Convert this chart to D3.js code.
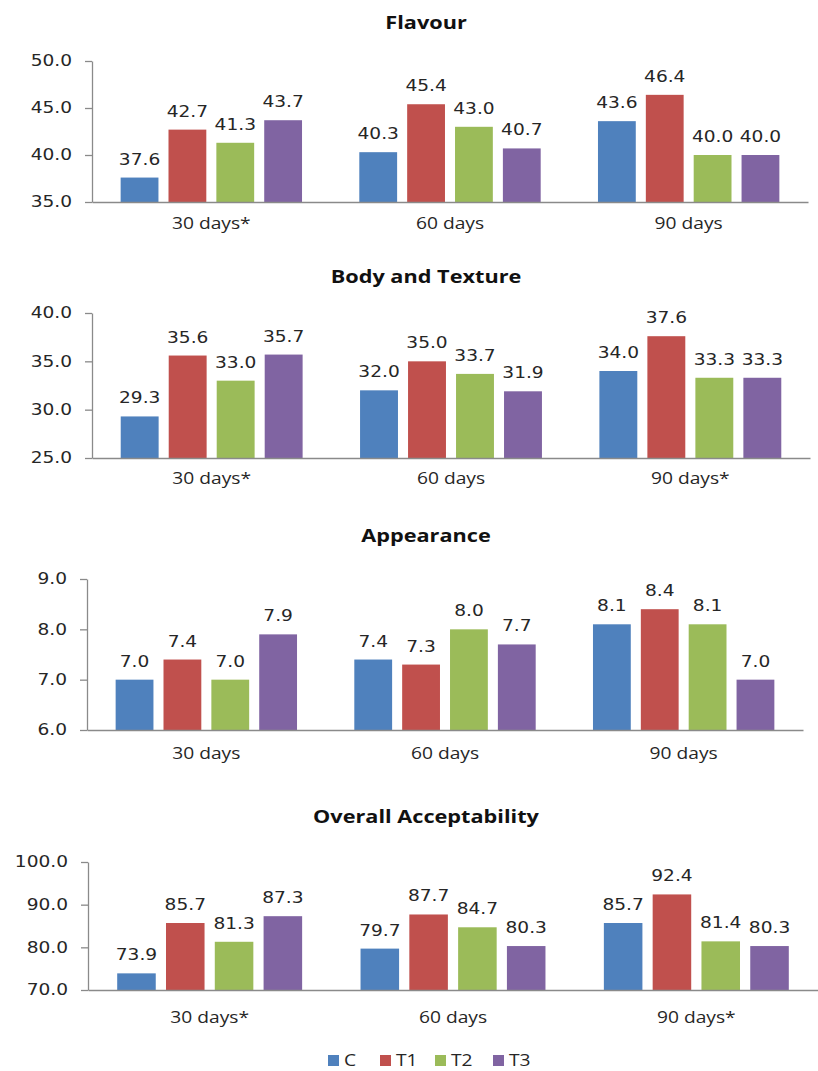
<!DOCTYPE html>
<html>
<head>
<meta charset="utf-8">
<script src="https://cdn.jsdelivr.net/npm/d3@7"></script>
<style>
  html, body { margin: 0; padding: 0; background: #fff; }
  svg { display: block; }
</style>
</head>
<body>
<svg id="chart" width="818" height="1071"></svg>
<script>
// Sensory scores of the four treatments over storage time
const series = ["C", "T1", "T2", "T3"];
const colors = ["#4F81BD", "#C0504D", "#9BBB59", "#8064A2"];

const flavourDays = ["30 days*", "60 days", "90 days"];
const flavourC  = [37.6, 40.3, 43.6];
const flavourT1 = [42.7, 45.4, 46.4];
const flavourT2 = [41.3, 43.0, 40.0];
const flavourT3 = [43.7, 40.7, 40.0];
const flavourTicks = [35, 40, 45, 50];

const bodyDays = ["30 days*", "60 days", "90 days*"];
const bodyC  = [29.3, 32.0, 34.0];
const bodyT1 = [35.6, 35.0, 37.6];
const bodyT2 = [33.0, 33.7, 33.3];
const bodyT3 = [35.7, 31.9, 33.3];
const bodyTicks = [25, 30, 35, 40];

const appearanceDays = ["30 days", "60 days", "90 days"];
const appearanceC  = [7.0, 7.4, 8.1];
const appearanceT1 = [7.4, 7.3, 8.4];
const appearanceT2 = [7.0, 8.0, 8.1];
const appearanceT3 = [7.9, 7.7, 7.0];
const appearanceTicks = [6, 7, 8, 9];

const overallDays = ["30 days*", "60 days", "90 days*"];
const overallC  = [73.9, 79.7, 85.7];
const overallT1 = [85.7, 87.7, 92.4];
const overallT2 = [81.3, 84.7, 81.4];
const overallT3 = [87.3, 80.3, 80.3];
const overallTicks = [70, 80, 90, 100];

const panels = [
  { title: "Flavour", days: flavourDays, values: [flavourC, flavourT1, flavourT2, flavourT3], ticks: flavourTicks,
    left: 92, right: 808, top: 61, bottom: 202, titleY: 29, labelY: 229 },
  { title: "Body and Texture", days: bodyDays, values: [bodyC, bodyT1, bodyT2, bodyT3], ticks: bodyTicks,
    left: 92, right: 810, top: 313, bottom: 458, titleY: 283, labelY: 484 },
  { title: "Appearance", days: appearanceDays, values: [appearanceC, appearanceT1, appearanceT2, appearanceT3], ticks: appearanceTicks,
    left: 87, right: 803, top: 579, bottom: 730, titleY: 542, labelY: 759 },
  { title: "Overall Acceptability", days: overallDays, values: [overallC, overallT1, overallT2, overallT3], ticks: overallTicks,
    left: 88, right: 818, top: 862, bottom: 990, titleY: 823, labelY: 1023 }
];

const SX = 1.24;               // horizontal stretch applied to all text
const numFont = "'DejaVu Sans', Verdana, sans-serif";
const txtFont = "'Open Sans', 'Noto Sans', sans-serif";
const axisColor = "#8a8a8a";
const textColor = "#262626";

const svg = d3.select("#chart");

// text drawn at (x, y) with a horizontal stretch
function stretchedText(g, x, y, str) {
  return g.append("text")
    .attr("transform", `translate(${x},${y}) scale(${SX},1)`)
    .text(str);
}

panels.forEach(p => {
  const g = svg.append("g");

  const y = d3.scaleLinear()
    .domain([p.ticks[0], p.ticks[p.ticks.length - 1]])
    .range([p.bottom, p.top]);

  const x0 = d3.scaleBand()
    .domain(p.days)
    .range([p.left, p.right])
    .paddingInner(0.24)
    .paddingOuter(0.12);

  const x1 = d3.scaleBand()
    .domain(series)
    .range([0, x0.bandwidth()])
    .paddingInner(0.21);

  // title
  stretchedText(g, 426, p.titleY, p.title)
    .attr("text-anchor", "middle")
    .attr("font-family", txtFont)
    .attr("font-weight", "bold")
    .attr("font-size", 17.5)
    .attr("fill", "#111");

  // bars with value labels
  series.forEach((s, si) => {
    p.values[si].forEach((v, di) => {
      const d = p.days[di];
      const bx = x0(d) + x1(s);
      g.append("rect")
        .attr("x", bx)
        .attr("y", y(v))
        .attr("width", x1.bandwidth())
        .attr("height", y(p.ticks[0]) - y(v))
        .attr("fill", colors[si]);
      stretchedText(g, bx + x1.bandwidth() / 2, y(v) - 13, v.toFixed(1))
        .attr("text-anchor", "middle")
        .attr("font-family", numFont)
        .attr("font-size", 15)
        .attr("fill", textColor);
    });
  });

  // value axis
  const yAxis = g.append("g")
    .attr("transform", `translate(${p.left},0)`)
    .call(d3.axisLeft(y).tickValues(p.ticks).tickFormat(d3.format(".1f")).tickSize(7).tickPadding(13).tickSizeOuter(0));
  yAxis.select(".domain").attr("stroke", axisColor).attr("stroke-width", 1.3);
  yAxis.selectAll(".tick line").attr("stroke", axisColor).attr("stroke-width", 1.3);
  yAxis.selectAll(".tick text").each(function () {
    const t = d3.select(this);
    const tx = +t.attr("x");
    t.attr("x", null)
      .attr("transform", `translate(${tx},0) scale(${SX},1)`)
      .attr("font-family", numFont)
      .attr("font-size", 15)
      .attr("fill", textColor);
  });

  // category axis
  const xAxis = g.append("g")
    .attr("transform", `translate(0,${p.bottom})`)
    .call(d3.axisBottom(x0).tickSize(0).tickSizeOuter(0).tickFormat(""));
  xAxis.select(".domain").attr("stroke", axisColor).attr("stroke-width", 1.3);

  p.days.forEach(d => {
    stretchedText(g, x0(d) + x0.bandwidth() / 2, p.labelY, d)
      .attr("text-anchor", "middle")
      .attr("font-family", txtFont)
      .attr("font-size", 15.5)
      .attr("fill", textColor);
  });
});

// legend
const legendX = [328, 380, 435, 493];
const legend = svg.append("g");
series.forEach((s, i) => {
  legend.append("rect")
    .attr("x", legendX[i])
    .attr("y", 1055)
    .attr("width", 11)
    .attr("height", 11)
    .attr("fill", colors[i]);
  stretchedText(legend, legendX[i] + 16, 1066, s)
    .attr("font-family", txtFont)
    .attr("font-size", 15.5)
    .attr("fill", textColor);
});
</script>
</body>
</html>
